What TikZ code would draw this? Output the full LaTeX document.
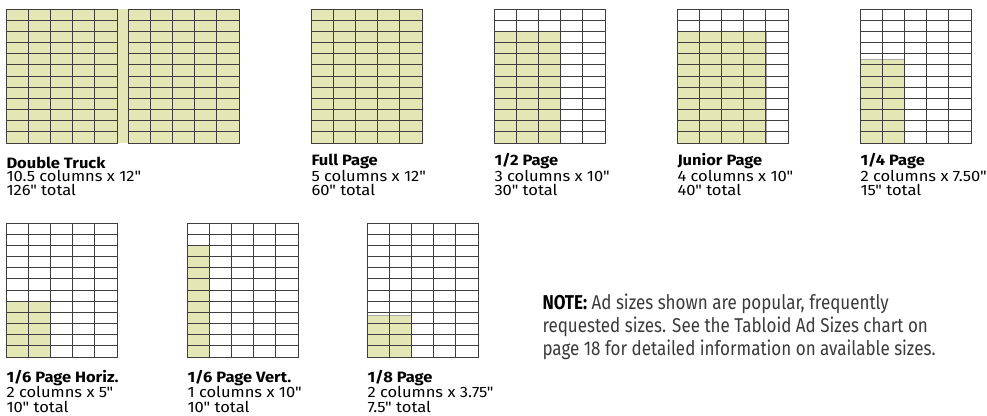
\documentclass[tikz,border=0pt]{standalone}
\usepackage{fontspec}
\newfontfamily\labelfont[FakeStretch=1.1]{Fira Sans}
\newfontfamily\notefont[FakeStretch=0.85]{Fira Sans}
\definecolor{cgreen}{HTML}{E2E7B5}
\definecolor{cline}{HTML}{3F3F3F}
\definecolor{cnote}{HTML}{3A3A3A}
\tikzset{
  every picture/.style={line width=1pt},
  gridline/.style={draw=cline, line width=1pt, line cap=rect},
  adfill/.style={fill=cgreen, draw=cline!45, line width=0.5pt},
  adlabel/.style={anchor=base west, align=left, inner sep=0pt, text=black},
  toprow/.style={font=\labelfont\fontsize{15}{13.5}\selectfont},
  botrow/.style={font=\labelfont\fontsize{15}{15}\selectfont},
  note/.style={anchor=base west, align=left, inner sep=0pt, text=cnote, font=\notefont\fontsize{20}{23}\selectfont},
}
% one page of 5 columns x 12 rows: left, top, filled columns, first filled row
\newcommand{\adpage}[4]{%
  \begin{scope}[shift={(#1pt,-#2pt)}, x=22.2pt, y=-11.1667pt]
    \ifnum#3>0 \filldraw[adfill] (0,#4) rectangle (#3,12);\fi
    \foreach \c in {0,...,5} \draw[gridline] (\c,0) -- (\c,12);
    \foreach \r in {0,...,12} \draw[gridline] (0,\r) -- (5,\r);
  \end{scope}}

\begin{document}
\begin{tikzpicture}[x=1pt, y=-1pt]
  \useasboundingbox (0,0) rectangle (987,415);
  % top row (labels anchored at their last baseline)
  \fill[cgreen] (6,9) rectangle (239,143);
  \adpage{6}{9}{5}{0}
  \adpage{128}{9}{5}{0}
  \adpage{311}{9}{5}{0}
  \adpage{494}{9}{3}{2}
  \adpage{677}{9}{4}{2}
  \adpage{860}{9}{2}{4.5}
  \node[adlabel, toprow] (dtlabel) at (6,195) {\textbf{Double Truck}\\10.5 columns x 12"\\126" total};
  \node[adlabel, toprow] (fulllabel) at (311,195) {\textbf{Full Page}\\5 columns x 12"\\60" total};
  \node[adlabel, toprow] (halflabel) at (494,195) {\textbf{1/2 Page}\\3 columns x 10"\\30" total};
  \node[adlabel, toprow] (juniorlabel) at (677,195) {\textbf{Junior Page}\\4 columns x 10"\\40" total};
  \node[adlabel, toprow] (quarterlabel) at (860,195) {\textbf{1/4 Page}\\2 columns x 7.50"\\15" total};
  % bottom row
  \adpage{6}{223}{2}{7}
  \adpage{187}{223}{1}{2}
  \adpage{367}{223}{2}{8.25}
  \node[adlabel, botrow] (horizlabel) at (6,412) {\textbf{1/6 Page Horiz.}\\2 columns x 5"\\10" total};
  \node[adlabel, botrow] (vertlabel) at (187,412) {\textbf{1/6 Page Vert.}\\1 columns x 10"\\10" total};
  \node[adlabel, botrow] (eighthlabel) at (367,412) {\textbf{1/8 Page}\\2 columns x 3.75"\\7.5" total};
  % note
  \node[note] (note) at (542,355) {{\color{black}\textbf{NOTE:}} Ad sizes shown are popular, frequently\\requested sizes. See the Tabloid Ad Sizes chart on\\page 18 for detailed information on available sizes.};
\end{tikzpicture}
\end{document}
